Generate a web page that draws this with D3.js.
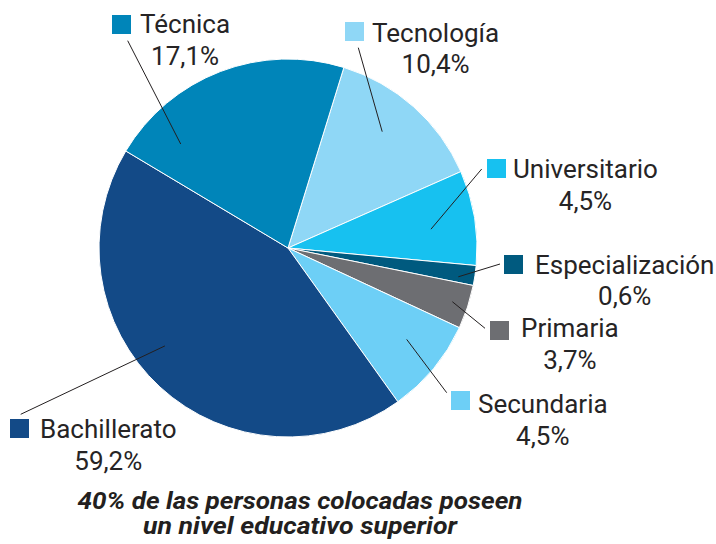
<!DOCTYPE html>
<html>
<head>
<meta charset="utf-8">
<script src="https://cdn.jsdelivr.net/npm/d3@7"></script>
<style>
  html, body { margin: 0; padding: 0; background: #ffffff; }
  svg { display: block; }
</style>
</head>
<body>
<svg id="chart" width="716" height="544"></svg>
<script>
// ---- data (clockwise from the Tecnología slice) ----
const categories = ["Tecnología", "Universitario", "Especialización", "Primaria", "Secundaria", "Bachillerato", "Técnica"];
// slice shares as drawn in the picture (% of the circle)
const sliceShares = [13.6, 8.1, 1.7, 3.75, 8.2, 43.45, 21.2];
// percentages printed in the labels
const labelValues = ["10,4%", "4,5%", "0,6%", "3,7%", "4,5%", "59,2%", "17,1%"];
const colors = ["#8fd7f6", "#17c1f0", "#005a7f", "#6d6e72", "#6dcff6", "#134a87", "#0085b9"];
const titleLines = ["40% de las personas colocadas poseen", "un nivel educativo superior"];

// ---- layout ----
const cx = 288, cy = 248, R = 189;
const startDeg = 17.2;
const labelLayout = [
  // sq: legend square top-left; tx/ty: name x & baseline; p: leader outer end; a/r: leader inner end (deg from top, radius)
  { sx: 345, sy: 22,  tx: 372, ty: 41.5, px: 358.3, py: 47.7,  a: 39.0,  r: 149.7 },
  { sx: 487, sy: 159, tx: 513, ty: 178,  px: 481.7, py: 169,   a: 82.5,  r: 144.2 },
  { sx: 504, sy: 255, tx: 535, ty: 273.5,px: 500,   py: 264,   a: 99.6,  r: 172.7 },
  { sx: 490, sy: 321, tx: 521, ty: 337,  px: 485,   py: 328.3, a: 108.1, r: 172.9 },
  { sx: 451, sy: 391, tx: 478, ty: 413,  px: 446.7, py: 392.7, a: 127.6, r: 149.8 },
  { sx: 10,  sy: 419, tx: 40,  ty: 438,  px: 20.7,  py: 414.3, a: 231.5, r: 157.3 },
  { sx: 112, sy: 15,  tx: 140, ty: 33,   px: 127.7, py: 40.7,  a: 314.1, r: 149.4 }
];
const sqSize = 19, pctGap = 31.5;
const textColor = "#262425";
const fontFamily = "Roboto, 'Noto Sans', sans-serif";

const svg = d3.select("#chart");
const g = svg.append("g").attr("transform", `translate(${cx},${cy})`);

const rad = d => d * Math.PI / 180;
const pie = d3.pie().sort(null).value(d => d)
  .startAngle(rad(startDeg)).endAngle(rad(startDeg) + 2 * Math.PI);
const arc = d3.arc().innerRadius(0).outerRadius(R);

g.selectAll("path.slice")
  .data(pie(sliceShares))
  .join("path")
  .attr("class", "slice")
  .attr("d", arc)
  .attr("fill", (d, i) => colors[i])
  .attr("stroke", "#ffffff")
  .attr("stroke-width", 1)
  .attr("stroke-linejoin", "round");

// leader lines
labelLayout.forEach((L, i) => {
  const x1 = cx + L.r * Math.sin(rad(L.a));
  const y1 = cy - L.r * Math.cos(rad(L.a));
  svg.append("line")
    .attr("x1", x1).attr("y1", y1)
    .attr("x2", L.px).attr("y2", L.py)
    .attr("stroke", "#231f20").attr("stroke-width", 1);
});

// labels
labelLayout.forEach((L, i) => {
  svg.append("rect")
    .attr("x", L.sx).attr("y", L.sy)
    .attr("width", sqSize).attr("height", sqSize)
    .attr("fill", colors[i]);
  const name = svg.append("text")
    .attr("x", L.tx).attr("y", L.ty)
    .attr("font-family", fontFamily)
    .attr("font-size", 26)
    .attr("fill", textColor)
    .text(categories[i]);
  const w = name.node().getComputedTextLength();
  svg.append("text")
    .attr("x", L.tx + w / 2).attr("y", L.ty + pctGap)
    .attr("text-anchor", "middle")
    .attr("font-family", fontFamily)
    .attr("font-size", 26)
    .attr("fill", textColor)
    .text(labelValues[i]);
});

// title
const titleBaselines = [509, 534];
const titleWidths = [445, 314];
titleLines.forEach((t, i) => {
  svg.append("text")
    .attr("x", 300).attr("y", titleBaselines[i])
    .attr("text-anchor", "middle")
    .attr("font-family", fontFamily)
    .attr("font-size", 23)
    .attr("font-weight", "bold")
    .attr("font-style", "italic")
    .attr("textLength", titleWidths[i])
    .attr("lengthAdjust", "spacingAndGlyphs")
    .attr("fill", "#231f20")
    .text(t);
});
</script>
</body>
</html>
